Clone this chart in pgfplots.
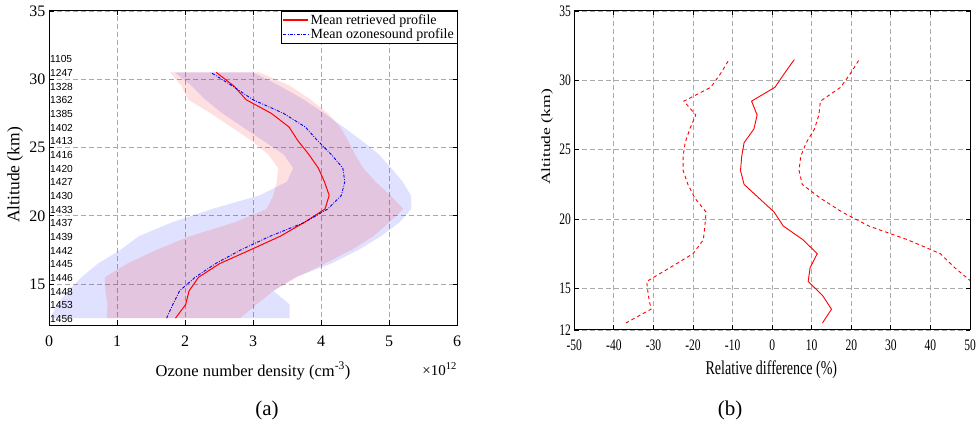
\documentclass[border=0pt]{standalone}
\usepackage{pgfplots}
\pgfplotsset{compat=1.18}
\usepackage{graphicx}
\usepackage{fontspec}
\setmainfont{Liberation Serif}
\newfontfamily\sansf{Liberation Sans}
\newfontfamily\rfont[FakeStretch=0.72]{Liberation Serif}
\definecolor{gridc}{RGB}{170,170,170}
\definecolor{myred}{RGB}{255,0,0}
\definecolor{myblue}{RGB}{0,0,255}
\pgfplotsset{
  mygrid/.style={grid=major, major grid style={gridc, dash pattern=on 5pt off 3pt, line width=0.8pt},
    axis line style={line width=1pt}, tick style={black, line width=0.8pt}, major tick length=4.5pt},
}
\begin{document}
\begin{tikzpicture}
\useasboundingbox (0pt,0pt) rectangle (976pt,428pt);
% ---------------- (a)
\begin{axis}[
  at={(49pt,103pt)}, anchor=south west, scale only axis, width=408pt, height=314pt,
  xmin=0, xmax=6, ymin=12, ymax=35, mygrid,
  xtick={0,1,2,3,4,5,6}, xticklabels={0,1,2,3,4,5,6},
  ytick={15,20,25,30,35}, yticklabels={15,20,25,30,35},
  ticklabel style={font=\fontsize{16}{16}\selectfont},
  xticklabel style={yshift=-7pt},
  xlabel={Ozone number density (cm\textsuperscript{-3})},
  xlabel style={font=\fontsize{16.5}{17}\selectfont, at={(axis description cs:0.5,-0.146)}, anchor=center},
  ylabel={Altitude (km)},
  ylabel style={font=\fontsize{17.5}{18}\selectfont, at={(axis description cs:-0.083,0.478)}, anchor=center},
  legend style={at={(1,1)}, anchor=north east, font=\fontsize{14}{14}\selectfont,
    inner sep=1pt, row sep=-1pt, cells={anchor=west}},
  legend image code/.code={\draw[#1] (0pt,0pt) -- (25pt,0pt);},
]
% ozonesonde range
\addplot[draw=none, fill=myblue, fill opacity=0.12, forget plot] coordinates {
(0.02,12.5) (0.12,13.5) (0.28,14.5) (0.48,15.5) (0.72,16.5) (1.05,17.5) (1.32,18.5) (1.80,19.5)
(2.40,20.5) (3.10,21.5) (3.50,22.5) (3.59,23.5) (3.45,24.5) (3.15,25.5) (2.85,26.5) (2.55,27.5)
(2.30,28.5) (2.10,29.5) (1.85,30.5)
(3.00,30.5) (3.40,29.5) (3.75,28.5) (4.05,27.5) (4.33,26.5) (4.60,25.5) (4.85,24.5) (5.03,23.5)
(5.20,22.5) (5.32,21.5) (5.33,20.5) (5.15,19.5) (4.88,18.5) (4.55,17.5) (4.15,16.5) (3.62,15.5)
(3.30,14.5) (3.54,13.5) (3.54,12.5)};
% retrieved range
\addplot[draw=none, fill=myred, fill opacity=0.12, forget plot] coordinates {
(0.85,12.5) (0.86,13.5) (0.83,14.5) (0.82,15.5) (1.15,16.5) (1.58,17.5) (2.07,18.5) (2.72,19.5)
(3.20,20.5) (3.30,21.5) (3.35,22.5) (3.37,23.5) (3.22,24.5) (2.98,25.5) (2.68,26.5) (2.38,27.5)
(2.05,28.5) (1.95,29.5) (1.78,30.5)
(3.10,30.5) (3.55,29.5) (3.85,28.5) (4.10,27.5) (4.28,26.5) (4.40,25.5) (4.50,24.5) (4.62,23.5)
(4.80,22.5) (5.02,21.5) (5.21,20.5) (5.00,19.5) (4.77,18.5) (4.45,17.5) (4.05,16.5) (3.65,15.5)
(3.30,14.5) (3.05,13.5) (2.81,12.5)};
\addplot[draw=myred, line width=1pt, forget plot] coordinates {
(1.86,12.5) (2.01,13.5) (2.06,14.5) (2.20,15.5) (2.51,16.5) (2.96,17.5) (3.40,18.5) (3.75,19.5)
(4.06,20.5) (4.12,21.5) (4.05,22.5) (3.96,23.5) (3.82,24.5) (3.66,25.5) (3.53,26.5) (3.27,27.5)
(2.90,28.5) (2.72,29.5) (2.46,30.5)};
\addplot[draw=myblue, line width=0.9pt, dash pattern=on 3pt off 1.5pt on 0.8pt off 1.5pt, forget plot] coordinates {
(1.73,12.5) (1.82,13.5) (1.92,14.5) (2.15,15.5) (2.45,16.5) (2.82,17.5) (3.25,18.5) (3.75,19.5)
(4.10,20.5) (4.30,21.5) (4.35,22.5) (4.32,23.5) (4.15,24.5) (3.95,25.5) (3.77,26.5) (3.45,27.5)
(3.00,28.5) (2.70,29.5) (2.38,30.5)};
\addlegendimage{color=myred, draw=myred, line width=1.3pt, solid}
\addlegendentry{Mean retrieved profile}
\addlegendimage{color=myblue, draw=myblue, line width=0.9pt, dash pattern=on 3pt off 1.5pt on 0.8pt off 1.5pt}
\addlegendentry{Mean ozonesound profile}
\begin{scope}[every node/.style={anchor=west, font=\sansf\fontsize{10.2}{10}\selectfont, inner sep=1pt}]
\node at (axis cs:0,31.45) {1105};
\node at (axis cs:0,30.45) {1247};
\node at (axis cs:0,29.45) {1328};
\node at (axis cs:0,28.45) {1362};
\node at (axis cs:0,27.45) {1385};
\node at (axis cs:0,26.45) {1402};
\node at (axis cs:0,25.45) {1413};
\node at (axis cs:0,24.45) {1416};
\node at (axis cs:0,23.45) {1420};
\node at (axis cs:0,22.45) {1427};
\node at (axis cs:0,21.45) {1430};
\node at (axis cs:0,20.45) {1433};
\node at (axis cs:0,19.45) {1437};
\node at (axis cs:0,18.45) {1439};
\node at (axis cs:0,17.45) {1442};
\node at (axis cs:0,16.45) {1445};
\node at (axis cs:0,15.45) {1446};
\node at (axis cs:0,14.45) {1448};
\node at (axis cs:0,13.45) {1453};
\node at (axis cs:0,12.45) {1456};
\end{scope}
\end{axis}
\node[anchor=east, inner sep=0pt] at (457pt,59pt) {\fontsize{15}{15}\selectfont ×10\textsuperscript{12}};
% ---------------- (b)
\begin{axis}[
  at={(574.3pt,98pt)}, anchor=south west, scale only axis, width=395.7pt, height=319pt,
  xmin=-50, xmax=50, ymin=12, ymax=35, mygrid,
  xtick={-50,-40,-30,-20,-10,0,10,20,30,40,50},
  xticklabels={-50,-40,-30,-20,-10,0,10,20,30,40,50},
  ytick={12,15,20,25,30,35}, yticklabels={12,15,20,25,30,35},
  ticklabel style={font=\rfont\fontsize{16}{16}\selectfont},
  xticklabel style={yshift=-6pt},
  xlabel={Relative difference (\%)},
  xlabel style={font=\rfont\fontsize{19.5}{20}\selectfont, at={(axis description cs:0.498,-0.125)}, anchor=center},
  ylabel={\scalebox{1}[0.72]{Altitude (km)}},
  ylabel style={font=\fontsize{17.5}{18}\selectfont, at={(axis description cs:-0.069,0.605)}, anchor=center},
]
\addplot[draw=myred, line width=0.9pt] coordinates {
(12.7,12.5) (15.0,13.5) (12.7,14.5) (9.1,15.5) (9.6,16.5) (11.4,17.5) (7.8,18.5) (2.8,19.5)
(0.5,20.5) (-3.3,21.5) (-7.1,22.5) (-8.0,23.5) (-7.7,24.5) (-7.1,25.5) (-4.6,26.5) (-3.8,27.5)
(-5.2,28.5) (0.7,29.5) (3.1,30.5) (5.6,31.5)};
\addplot[draw=myred, line width=0.9pt, dash pattern=on 3.5pt off 3pt] coordinates {
(-37.0,12.5) (-30.6,13.5) (-31.3,14.5) (-31.7,15.5) (-25.8,16.5) (-20.0,17.5) (-17.4,18.5) (-17.0,19.5)
(-16.7,20.5) (-19.5,21.5) (-21.3,22.5) (-22.5,23.5) (-22.5,24.5) (-22.0,25.5) (-20.8,26.5) (-19.3,27.5)
(-22.3,28.5) (-15.5,29.5) (-13.0,30.5) (-10.9,31.5)};
\addplot[draw=myred, line width=0.9pt, dash pattern=on 3.5pt off 3pt] coordinates {
(50.3,15.5) (46.1,16.5) (42.5,17.5) (34.3,18.5) (24.4,19.5) (17.7,20.5) (12.2,21.5) (7.6,22.5)
(6.8,23.5) (7.2,24.5) (8.6,25.5) (10.7,26.5) (11.8,27.5) (12.2,28.5) (17.3,29.5) (19.8,30.5) (22.0,31.5)};
\end{axis}
\node[font=\fontsize{21}{21}\selectfont] at (267pt,18pt) {(a)};
\node[font=\fontsize{21}{21}\selectfont] at (730pt,18pt) {(b)};
\end{tikzpicture}
\end{document}
